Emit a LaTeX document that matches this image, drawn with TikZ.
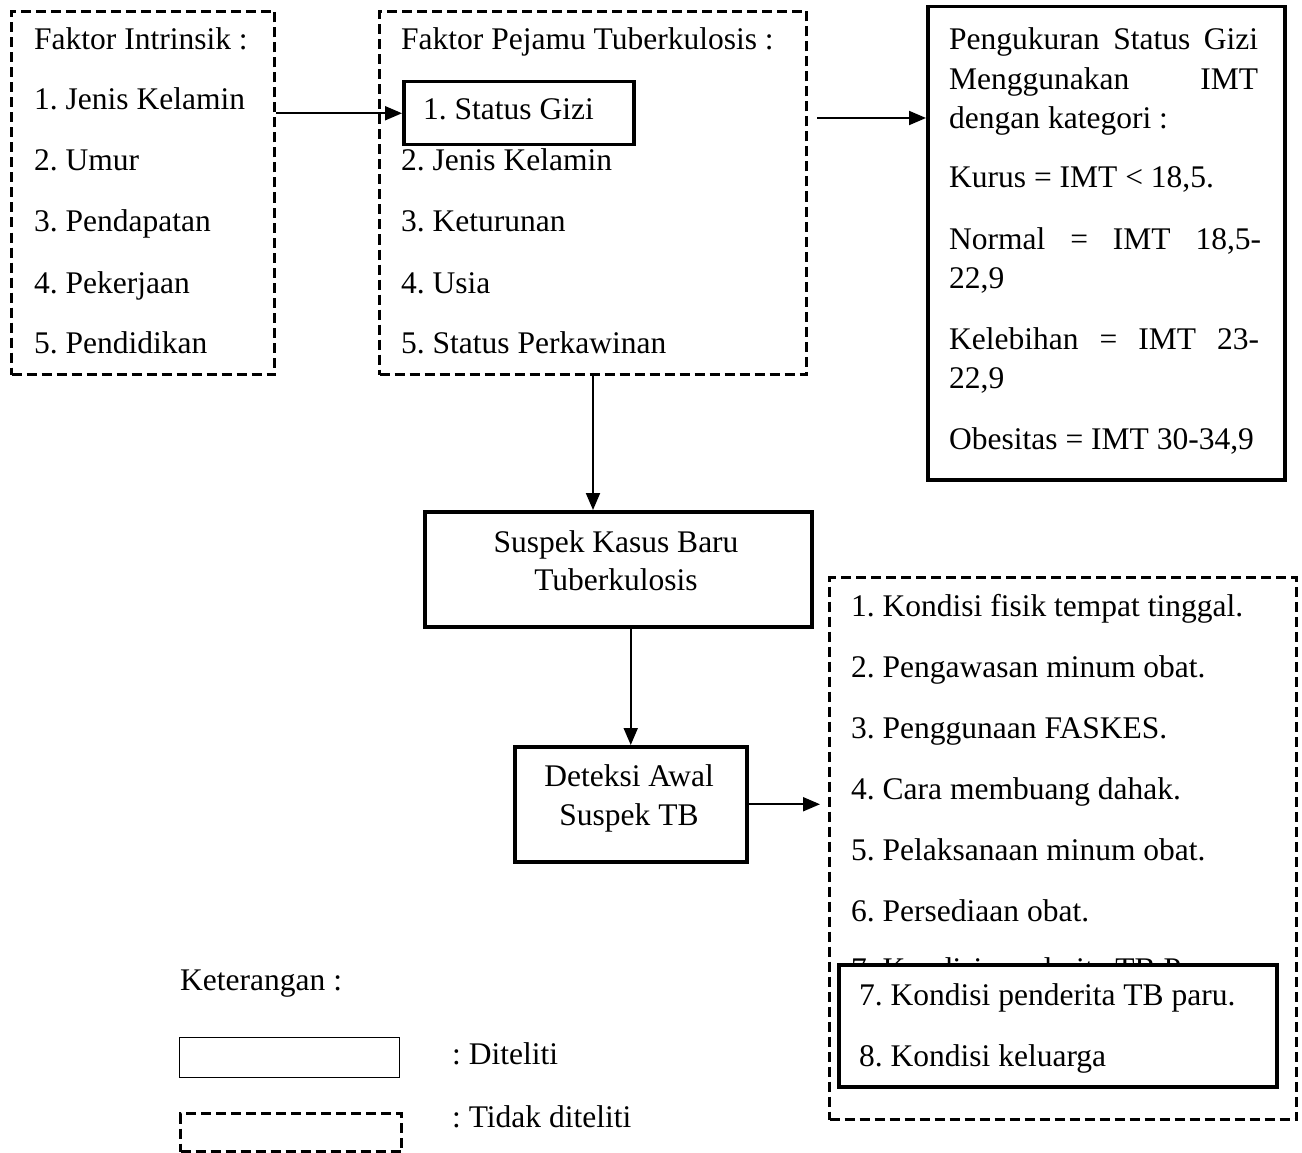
\documentclass[tikz,border=0pt]{standalone}
\usepackage{fontspec}
\setmainfont{Liberation Serif}
\usetikzlibrary{arrows.meta}
\frenchspacing
\begin{document}
\begin{tikzpicture}[x=1pt,y=-1pt,
  every node/.style={font=\fontsize{31.5}{38}\selectfont\frenchspacing},
  dbox/.style={draw, dash pattern=on 10pt off 5pt, line width=3pt, inner sep=0pt, anchor=north west},
  sbox/.style={draw, line width=3.5pt, inner sep=0pt, anchor=north west},
  txt/.style={anchor=base west, inner sep=0pt},
  ctxt/.style={anchor=base, inner sep=0pt},
  arr/.style={-{Triangle[length=17pt,width=14pt]}, line width=2pt}]
\path[use as bounding box] (0,0) rectangle (1302,1153);
% boxes
\node[dbox, minimum width=263pt, minimum height=363pt] (b1) at (10,10) {};
\node[dbox, minimum width=427pt, minimum height=363pt] (b2) at (378,10) {};
\node[sbox, minimum width=230pt, minimum height=63pt] (sg) at (402,80) {};
\node[sbox, minimum width=357pt, minimum height=473pt] (b3) at (926,5) {};
\node[sbox, minimum width=387pt, minimum height=115pt] (sus) at (423,510) {};
\node[sbox, minimum width=232pt, minimum height=115pt] (det) at (513,745) {};
\node[dbox, minimum width=467pt, minimum height=542pt] (b4) at (828,576) {};
% box 1 text
\node[txt] (t11) at (34,50) {Faktor Intrinsik :};
\node[txt] (t12) at (34,110) {1. Jenis Kelamin};
\node[txt] (t13) at (34,171) {2. Umur};
\node[txt] (t14) at (34,232) {3. Pendapatan};
\node[txt] (t15) at (34,293) {4. Pekerjaan};
\node[txt] (t16) at (34,353) {5. Pendidikan};
% box 2 text
\node[txt] (t21) at (401,50) {Faktor Pejamu Tuberkulosis :};
\node[txt] (t22) at (423,120) {1. Status Gizi};
\node[txt] (t23) at (401,171) {2. Jenis Kelamin};
\node[txt] (t24) at (401,232) {3. Keturunan};
\node[txt] (t25) at (401,293) {4. Usia};
\node[txt] (t26) at (401,353) {5. Status Perkawinan};
% box 3 text
\node[txt] (t31) at (949,50) {\makebox[309pt][s]{Pengukuran Status Gizi}};
\node[txt] (t32) at (949,90) {\makebox[309pt][s]{Menggunakan IMT}};
\node[txt] (t33) at (949,129) {dengan kategori :};
\node[txt] (t34) at (949,188) {Kurus = IMT < 18,5.};
\node[txt] (t35) at (949,249) {\makebox[312pt][s]{Normal = IMT 18,5-}};
\node[txt] (t36) at (949,288) {22,9};
\node[txt] (t37) at (949,349) {\makebox[310pt][s]{Kelebihan = IMT 23-}};
\node[txt] (t38) at (949,388) {22,9};
\node[txt] (t39) at (949,449) {Obesitas = IMT 30-34,9};
% suspek / deteksi
\node[ctxt] (s1) at (616,552) {Suspek Kasus Baru};
\node[ctxt] (s2) at (616,590) {Tuberkulosis};
\node[ctxt] (d1) at (629,786) {Deteksi Awal};
\node[ctxt] (d2) at (629,825) {Suspek TB};
% box 4 text
\node[txt] (t41) at (851,616) {1. Kondisi fisik tempat tinggal.};
\node[txt] (t42) at (851,677) {2. Pengawasan minum obat.};
\node[txt] (t43) at (851,738) {3. Penggunaan FASKES.};
\node[txt] (t44) at (851,799) {4. Cara membuang dahak.};
\node[txt] (t45) at (851,860) {5. Pelaksanaan minum obat.};
\node[txt] (t46) at (851,921) {6. Persediaan obat.};
\node[txt] (t47h) at (851,979) {7. Kondisi penderita TB Paru.};
\node[sbox, fill=white, minimum width=438pt, minimum height=122pt] (inner) at (837,963) {};
\node[txt] (t47) at (859,1005) {7. Kondisi penderita TB paru.};
\node[txt] (t48) at (859,1066) {8. Kondisi keluarga};
% legend
\node[txt] (k0) at (180,990) {Keterangan :};
\node[draw, line width=1.2pt, inner sep=0pt, anchor=north west, minimum width=220pt, minimum height=40pt] (leg1) at (179,1037) {};
\node[dbox, minimum width=221pt, minimum height=38pt] (leg2) at (179,1112) {};
\node[txt] (k1) at (452,1064) {: Diteliti};
\node[txt] (k2) at (452,1127) {: Tidak diteliti};
% arrows
\draw[arr] (sg.west -| b1.east) -- (sg.west);
\coordinate (a2s) at (817,118);
\draw[arr] (a2s) -- (a2s -| b3.west);
\draw[arr] (b2.south) -- (b2.south |- sus.north);
\draw[arr] (det.north |- sus.south) -- (det.north);
\draw[arr, shorten >=8pt] (det.east) -- (det.east -| b4.west);
\end{tikzpicture}
\end{document}
